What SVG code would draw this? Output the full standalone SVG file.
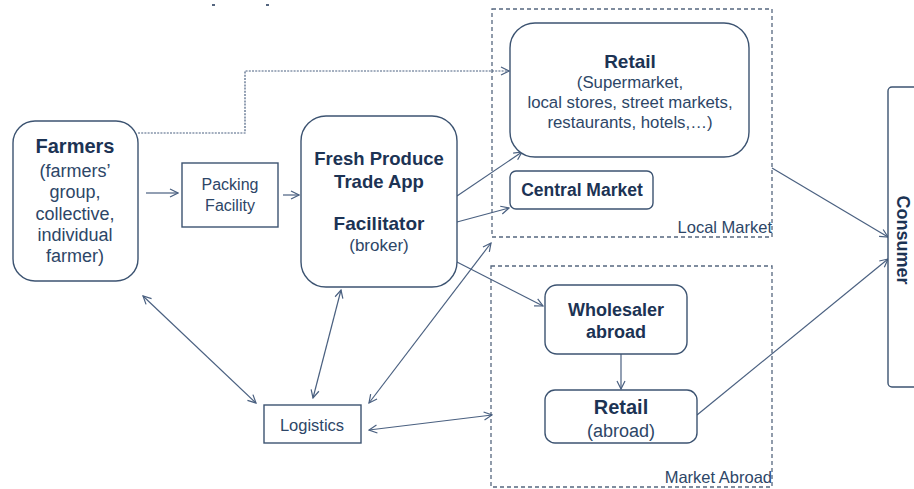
<svg xmlns="http://www.w3.org/2000/svg" width="914" height="489" viewBox="0 0 914 489">
<style>
.box{fill:#fff;stroke:#3c5371;stroke-width:1.4}
.grp{fill:none;stroke:#56677f;stroke-width:1.3;stroke-dasharray:4,3}
.ln{fill:none;stroke:#4a6080;stroke-width:1.2}
.b{font-family:"Liberation Sans",Arial,sans-serif;font-weight:bold;fill:#1c3354;text-anchor:middle}
.r{font-family:"Liberation Sans",Arial,sans-serif;fill:#2d4667;text-anchor:middle}
</style>
<defs>
<marker id="ah" markerWidth="10" markerHeight="10" refX="9" refY="5" orient="auto-start-reverse" markerUnits="userSpaceOnUse">
<path d="M1,1 L9,5 L1,9" fill="none" stroke="#4a6080" stroke-width="1.2"/>
</marker>
</defs>
<rect width="914" height="489" fill="#fff"/>
<line x1="212" y1="5" x2="215" y2="5" stroke="#1c3354" stroke-width="1.5"/>
<line x1="266" y1="5" x2="269" y2="5" stroke="#1c3354" stroke-width="1.5"/>

<g id="local-market">
<rect class="grp" x="492" y="9" width="280" height="228"/>
<text class="r" x="772" y="233" font-size="16.5" text-anchor="end" style="text-anchor:end">Local Market</text>
</g>
<g id="market-abroad">
<rect class="grp" x="491" y="266" width="281" height="221"/>
<text class="r" x="772" y="483" font-size="16.5" style="text-anchor:end">Market Abroad</text>
</g>

<g id="connectors">
<polyline class="ln" points="138,133 245,133 245,71 509,71" stroke-dasharray="2,1.2" marker-end="url(#ah)"/>
<line class="ln" x1="146" y1="193" x2="178" y2="193" marker-end="url(#ah)"/>
<line class="ln" x1="283" y1="195" x2="299" y2="195" marker-end="url(#ah)"/>
<line class="ln" x1="457" y1="196" x2="522" y2="152" marker-end="url(#ah)"/>
<line class="ln" x1="457" y1="222" x2="509" y2="208" marker-end="url(#ah)"/>
<line class="ln" x1="455" y1="261" x2="543" y2="306" marker-end="url(#ah)"/>
<line class="ln" x1="621" y1="354" x2="621" y2="389" marker-end="url(#ah)"/>
<line class="ln" x1="772" y1="168" x2="888" y2="237" marker-end="url(#ah)"/>
<line class="ln" x1="697" y1="415" x2="888" y2="259" marker-end="url(#ah)"/>
<line class="ln" x1="143" y1="296" x2="256" y2="403" marker-start="url(#ah)" marker-end="url(#ah)"/>
<line class="ln" x1="341" y1="290" x2="313" y2="398" marker-start="url(#ah)" marker-end="url(#ah)"/>
<line class="ln" x1="491" y1="243" x2="369" y2="403" marker-start="url(#ah)" marker-end="url(#ah)"/>
<line class="ln" x1="369" y1="430" x2="492" y2="415" marker-start="url(#ah)" marker-end="url(#ah)"/>
</g>

<g id="farmers">
<rect class="box" x="13" y="121" width="125" height="160" rx="22"/>
<text class="b" x="75" y="153" font-size="20">Farmers</text>
<text class="r" x="75" y="177" font-size="18">(farmers’</text>
<text class="r" x="75" y="198" font-size="18">group,</text>
<text class="r" x="75" y="220" font-size="18">collective,</text>
<text class="r" x="75" y="241" font-size="18">individual</text>
<text class="r" x="75" y="262" font-size="18">farmer)</text>
</g>
<g id="packing">
<rect class="box" x="182" y="163" width="96" height="64"/>
<text class="r" x="230" y="190" font-size="16">Packing</text>
<text class="r" x="230" y="211" font-size="16">Facility</text>
</g>
<g id="app">
<rect class="box" x="301" y="116" width="156" height="171" rx="25"/>
<text class="b" x="379" y="165" font-size="18.5">Fresh Produce</text>
<text class="b" x="379" y="188" font-size="18.5">Trade App</text>
<text class="b" x="379" y="230" font-size="19">Facilitator</text>
<text class="r" x="379" y="251" font-size="17">(broker)</text>
</g>
<g id="retail-local">
<rect class="box" x="510" y="23" width="239" height="134" rx="25"/>
<text class="b" x="630" y="68" font-size="19">Retail</text>
<text class="r" x="630" y="88" font-size="16.8">(Supermarket,</text>
<text class="r" x="630" y="108" font-size="16.8">local stores, street markets,</text>
<text class="r" x="630" y="128" font-size="16.8">restaurants, hotels,…)</text>
</g>
<g id="central-market">
<rect class="box" x="510" y="171" width="143" height="38" rx="6"/>
<text class="b" x="582" y="196" font-size="17.5">Central Market</text>
</g>
<g id="wholesaler">
<rect class="box" x="545" y="285" width="142" height="69" rx="12"/>
<text class="b" x="616" y="316" font-size="18">Wholesaler</text>
<text class="b" x="616" y="338" font-size="18">abroad</text>
</g>
<g id="retail-abroad">
<rect class="box" x="545" y="390" width="152" height="53" rx="10"/>
<text class="b" x="621" y="414" font-size="20">Retail</text>
<text class="r" x="621" y="437" font-size="18">(abroad)</text>
</g>
<g id="logistics">
<rect class="box" x="264" y="405" width="97" height="38"/>
<text class="r" x="312" y="431" font-size="16.5">Logistics</text>
</g>
<g id="consumer">
<rect class="box" x="888" y="87" width="40" height="300" rx="4"/>
<text class="b" transform="translate(897,240) rotate(90)" font-size="18">Consumer</text>
</g>
</svg>
